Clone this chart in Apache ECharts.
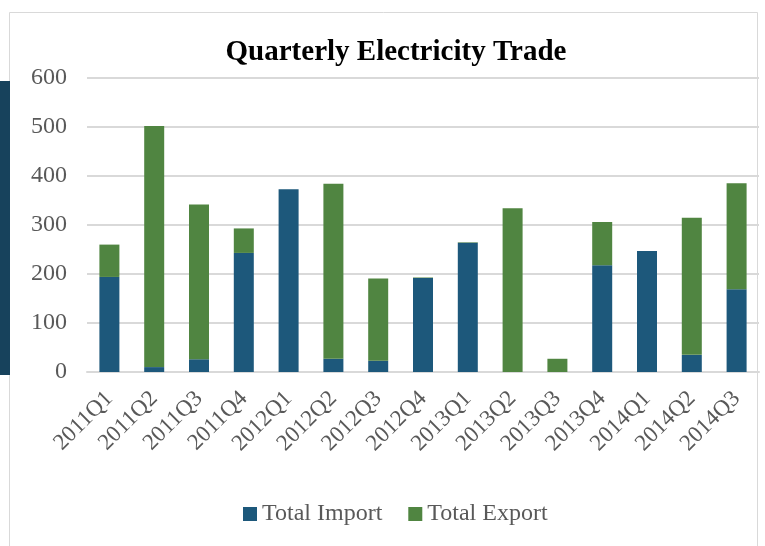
<!DOCTYPE html>
<html>
<head>
<meta charset="utf-8">
<script src="https://cdn.jsdelivr.net/npm/echarts@6/dist/echarts.min.js"></script>
<style>
html, body { margin: 0; padding: 0; background: #fff; }
#main { width: 765px; height: 546px; }
</style>
</head>
<body>
<div id="main"></div>
<script>
var quarters = ['2011Q1', '2011Q2', '2011Q3', '2011Q4', '2012Q1', '2012Q2', '2012Q3', '2012Q4',
    '2013Q1', '2013Q2', '2013Q3', '2013Q4', '2014Q1', '2014Q2', '2014Q3'];
var totalImport = [194, 10, 26, 243, 373, 27, 23, 192, 264, 0, 0, 218, 247, 35, 169];
var totalExport = [66, 492, 316, 50, 0, 357, 168, 1, 1, 334, 27, 88, 0, 280, 216];
var yTicks = [0, 100, 200, 300, 400, 500, 600];

var dom = document.getElementById('main');
var myChart = echarts.init(dom);
var serif = '"Liberation Serif", "Times New Roman", serif';
var option = {
    backgroundColor: '#fff',
    animation: false,
    title: {
        text: 'Quarterly Electricity Trade',
        left: 391,
        top: 33,
        textAlign: 'center',
        textStyle: { fontFamily: serif, fontSize: 29, fontWeight: 'bold', color: '#000' }
    },
    legend: {
        bottom: 15,
        left: 238,
        itemWidth: 14,
        itemHeight: 14,
        itemGap: 26,
        icon: 'rect',
        textStyle: { fontFamily: serif, fontSize: 24, color: '#595959' },
        data: ['Total Import', 'Total Export']
    },
    grid: { left: 87, top: 78, width: 672, height: 294 },
    xAxis: {
        type: 'category',
        data: quarters,
        axisTick: { show: false },
        axisLine: { lineStyle: { color: '#d9d9d9', width: 2 } },
        axisLabel: {
            rotate: 45,
            interval: 0,
            margin: 23,
            fontFamily: serif,
            fontSize: 23,
            color: '#595959'
        }
    },
    yAxis: {
        type: 'value',
        min: yTicks[0],
        max: yTicks[yTicks.length - 1],
        interval: 100,
        axisLine: { show: false },
        axisTick: { show: false },
        splitLine: { lineStyle: { color: '#d9d9d9', width: 2 } },
        axisLabel: { margin: 20, fontFamily: serif, fontSize: 24, color: '#595959' }
    },
    series: [{
        name: 'Total Import',
        type: 'bar',
        stack: 'trade',
        barWidth: 20,
        itemStyle: { color: '#1d587b' },
        data: totalImport
    }, {
        name: 'Total Export',
        type: 'bar',
        stack: 'trade',
        barWidth: 20,
        itemStyle: { color: '#508541' },
        data: totalExport
    }],
    graphic: [{
        type: 'rect',
        shape: { x: 9.5, y: 12.5, width: 748, height: 545 },
        style: { fill: 'none', stroke: '#d9d9d9', lineWidth: 1 },
        z: -1
    }, {
        type: 'rect',
        shape: { x: 0, y: 81, width: 10, height: 294 },
        style: { fill: '#17425c' }
    }]
};
if (option && typeof option === "object") {
    myChart.setOption(option, true);
}
</script>
</body>
</html>
